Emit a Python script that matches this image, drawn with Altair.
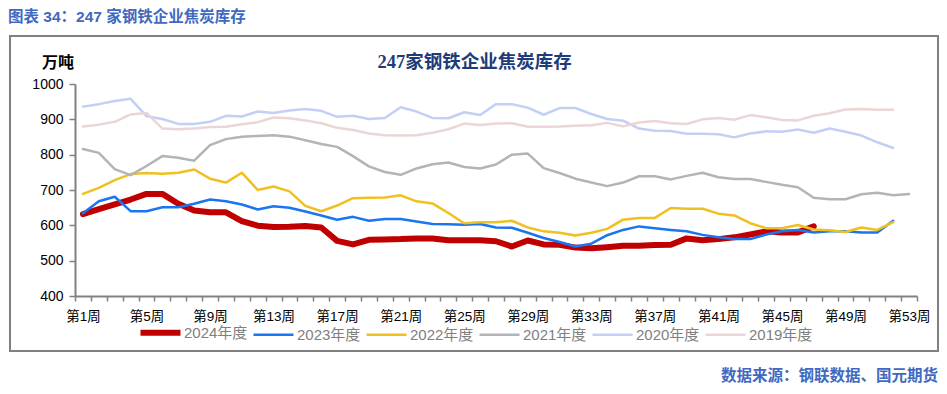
import altair as alt
import pandas as pd

weeks = list(range(1, 54))

y2024 = [632, 646, 659, 673, 689, 689, 661, 642, 637, 637, 612, 599, 595, 596, 598, 594,
         556, 546, 559, 560, 561, 563, 563, 558, 558, 558, 555, 540, 557, 546, 545, 537,
         535, 538, 542, 542, 544, 545, 563, 558, 561, 566, 574, 583, 580, 580, 597]
y2023 = [634, 668, 681, 640, 640, 651, 651, 661, 673, 668, 659, 645, 654, 650, 639, 628,
         616, 624, 613, 618, 618, 611, 604, 603, 602, 604, 594, 593, 579, 564, 553, 540,
         548, 572, 587, 597, 592, 587, 583, 573, 566, 561, 561, 574, 583, 587, 580, 583,
         583, 580, 580, 613]
y2022 = [689, 706, 728, 745, 748, 746, 749, 758, 732, 721, 749, 700, 710, 696, 655, 640,
         656, 677, 678, 679, 685, 668, 662, 635, 606, 609, 609, 613, 594, 583, 579, 571,
         579, 590, 616, 621, 621, 649, 647, 647, 633, 628, 606, 592, 592, 601, 588, 586,
         581, 594, 587, 609]
y2021 = [816, 805, 759, 742, 768, 796, 791, 783, 827, 844, 851, 853, 855, 851, 841, 830,
         822, 796, 767, 751, 743, 761, 773, 778, 765, 761, 772, 800, 803, 762, 748, 732,
         721, 711, 721, 739, 739, 730, 740, 749, 736, 731, 731, 723, 715, 708, 678, 674,
         674, 688, 692, 685, 689]
y2020 = [936, 943, 952, 958, 909, 901, 887, 887, 893, 910, 908, 922, 918, 925, 929, 924,
         907, 910, 901, 904, 934, 922, 904, 903, 920, 912, 943, 943, 933, 913, 932, 932,
         915, 901, 896, 874, 868, 867, 859, 859, 858, 849, 860, 866, 865, 871, 862, 874,
         865, 854, 835, 819]
y2019 = [880, 885, 893, 914, 918, 874, 872, 874, 878, 879, 886, 892, 905, 903, 897, 889,
         876, 870, 860, 855, 854, 855, 862, 872, 888, 884, 888, 889, 879, 879, 880, 882,
         883, 890, 880, 891, 895, 889, 887, 900, 904, 899, 912, 906, 898, 897, 910, 917,
         928, 929, 927, 927]

series_names = ["2024年度", "2023年度", "2022年度", "2021年度", "2020年度", "2019年度"]
series_values = [y2024, y2023, y2022, y2021, y2020, y2019]
colors = ["#c00000", "#1a75f0", "#f0c020", "#b4b4b4", "#c3d0f6", "#ecd5d5"]
widths = [6, 2.5, 2.5, 2.5, 2.5, 2.5]

y_ticks = [400, 500, 600, 700, 800, 900, 1000]
label_weeks = list(range(1, 54, 4))
tick_bounds = [w - 0.5 for w in weeks] + [53.5]

rows = []
for name, vals in zip(series_names, series_values):
    for w, v in zip(weeks, vals):
        rows.append({"week": w, "value": v, "series": name})
df = pd.DataFrame(rows)

x_scale = alt.Scale(domain=[0.5, 53.5], nice=False, zero=False)
y_scale = alt.Scale(domain=[400, 1000], nice=False, zero=False)
color_scale = alt.Scale(domain=series_names, range=colors)

FONT = "Liberation Sans, Noto Sans CJK SC"

legend = alt.Legend(
    title=None, orient="none", legendX=78, legendY=241, direction="horizontal",
    columns=6, columnPadding=0, symbolType="stroke", symbolSize=1600,
    labelOffset=16, labelFontSize=15, labelColor="#808080", labelFont=FONT,
    padding=0, labelLimit=200,
    symbolStrokeWidth=alt.ExprRef("datum.value === '2024年度' ? 6 : 2.5"),
)

base = alt.Chart(df)

line_layers = []
for name, w in zip(series_names, widths):
    line_layers.append(
        base.transform_filter(alt.datum.series == name)
        .mark_line(strokeCap="round", strokeJoin="round", strokeWidth=w)
        .encode(
            x=alt.X("week:Q", scale=x_scale, axis=None),
            y=alt.Y("value:Q", scale=y_scale, axis=None),
            color=alt.Color("series:N", scale=color_scale, legend=legend),
        )
    )

label_axis_layer = base.mark_point(opacity=0).encode(
    x=alt.X("week:Q", scale=x_scale, axis=alt.Axis(
        values=label_weeks, labelExpr="'第' + datum.value + '周'", ticks=False,
        domain=False, grid=False, title=None, labelFontSize=13.5, labelFont=FONT,
        labelColor="#000000", labelPadding=13, orient="bottom")),
    y=alt.Y("value:Q", scale=y_scale, axis=alt.Axis(
        values=y_ticks, format="d", grid=False, title=None, tickSize=6, labelPadding=6,
        labelFontSize=14, labelFont="Liberation Sans", labelColor="#000000",
        domainColor="#808080", tickColor="#808080", domainWidth=2, tickWidth=1.5,
        orient="left")),
)
tick_axis_layer = base.mark_point(opacity=0).encode(
    x=alt.X("week:Q", scale=x_scale, axis=alt.Axis(
        values=tick_bounds, labels=False, ticks=True, tickSize=5, domain=True,
        grid=False, title=None, domainColor="#808080", tickColor="#808080",
        domainWidth=2, tickWidth=1.5, orient="bottom")),
    y=alt.Y("value:Q", scale=y_scale, axis=None),
)

one = pd.DataFrame({"k": [0]})
frame = alt.Chart(one).mark_rect(fill="transparent", stroke="#808080", strokeWidth=2).encode(
    x=alt.value(-65), x2=alt.value(863), y=alt.value(-48), y2=alt.value(267)
)
header = alt.Chart(one).mark_text(
    text="图表 34：247 家钢铁企业焦炭库存", align="left", baseline="middle",
    fontSize=15.5, fontWeight="bold", color="#4169c0", font=FONT
).encode(x=alt.value(-67), y=alt.value(-67.5))
title = alt.Chart(one).mark_text(
    text="247家钢铁企业焦炭库存", align="center", baseline="middle",
    fontSize=18.5, fontWeight="bold", color="#1f3c78",
    font="Liberation Serif, Noto Sans CJK SC"
).encode(x=alt.value(399.5), y=alt.value(-22))
unit = alt.Chart(one).mark_text(
    text="万吨", align="left", baseline="middle", fontSize=16, fontWeight="bold",
    color="#000000", font=FONT
).encode(x=alt.value(-33), y=alt.value(-21.5))
footer = alt.Chart(one).mark_text(
    text="数据来源：钢联数据、国元期货", align="right", baseline="middle",
    fontSize=15.5, fontWeight="bold", color="#4169c0", font=FONT
).encode(x=alt.value(863), y=alt.value(292))

chart = alt.layer(
    frame, tick_axis_layer, label_axis_layer, *line_layers, header, title, unit, footer
).resolve_axis(x="independent", y="independent").properties(
    width=842, height=212,
    padding={"left": 67, "top": 76, "right": 22, "bottom": 90},
    autosize=alt.AutoSizeParams(type="none"),
).configure_view(stroke=None)

chart.save("out.html", embed_options={"renderer": "svg", "actions": False})
